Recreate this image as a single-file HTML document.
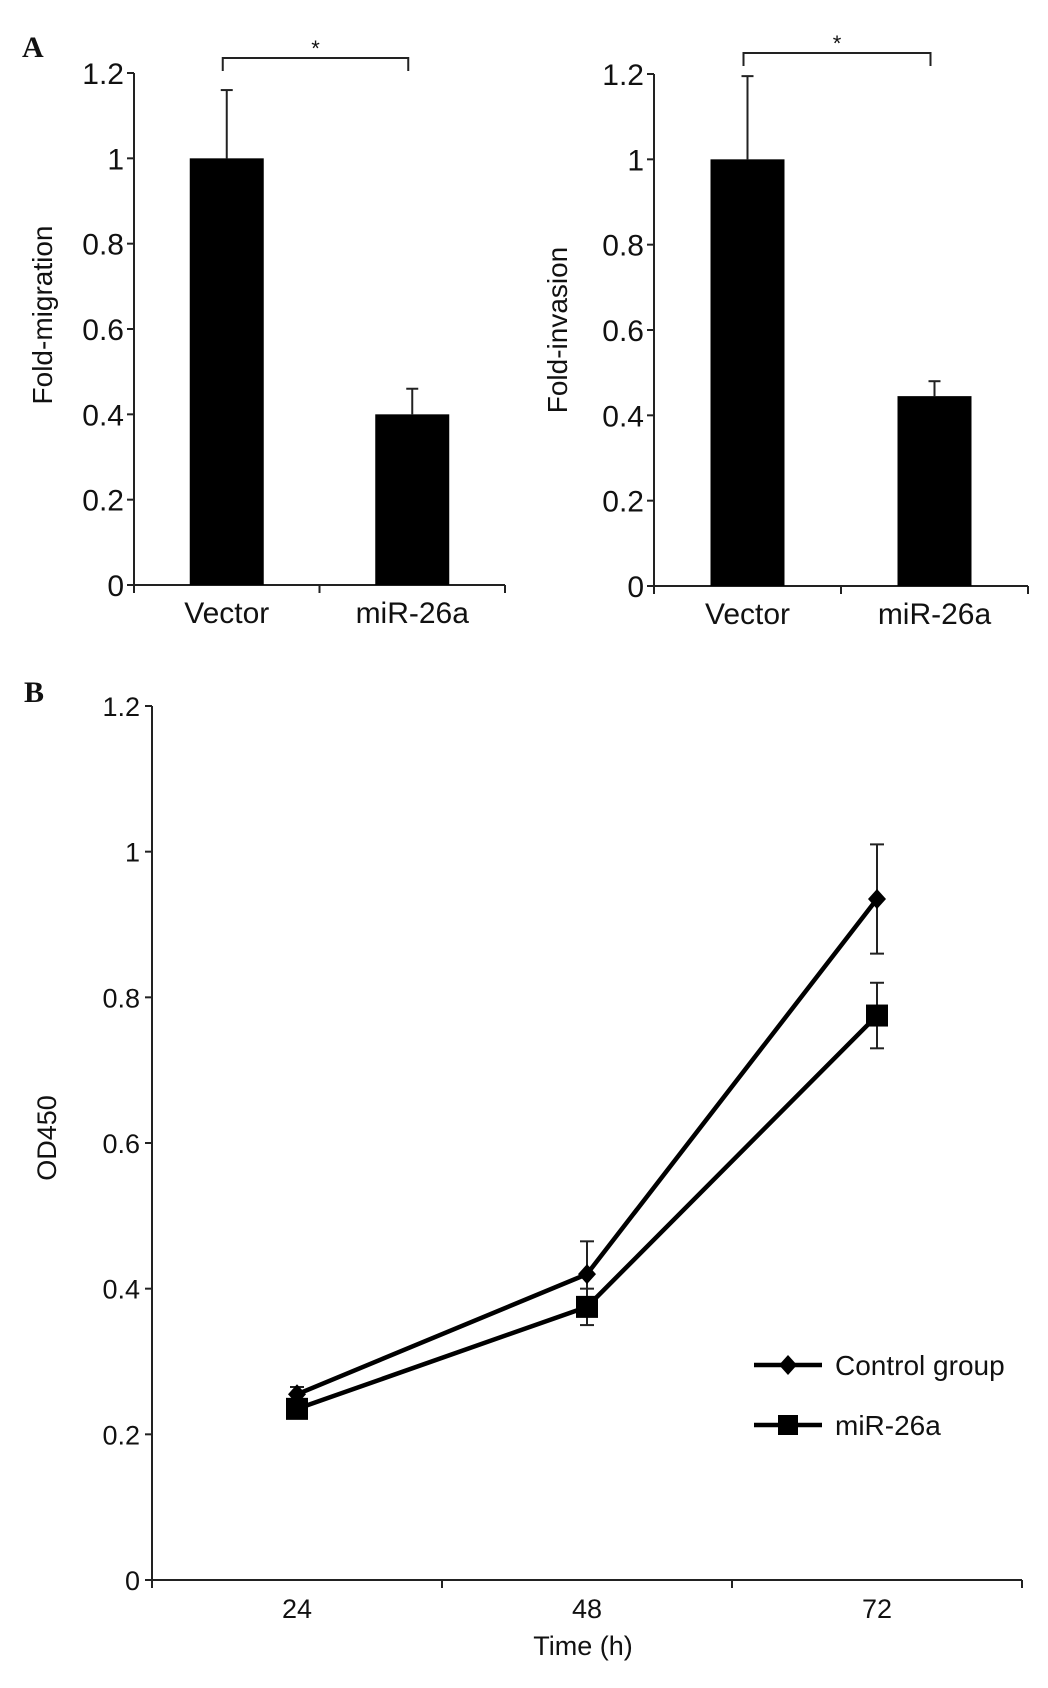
<!DOCTYPE html>
<html><head><meta charset="utf-8"><style>
html,body{margin:0;padding:0;background:#fff}
svg{display:block}
text{font-family:"Liberation Sans",Arial,sans-serif;fill:#111}
.n{font-family:"Liberation Sans Narrow","Liberation Sans",sans-serif}
</style></head><body>
<svg id="fig" width="1048" height="1688" viewBox="0 0 1048 1688" xmlns="http://www.w3.org/2000/svg">
<text x="22" y="57" style="font-family:'Liberation Serif',serif;font-weight:bold;font-size:30px">A</text>
<text x="24" y="702" style="font-family:'Liberation Serif',serif;font-weight:bold;font-size:30px">B</text>
<g id="a1"></g>
<g id="a2"></g>
<g id="b"></g>
</svg>
<script>
const barCats = ["Vector", "miR-26a"];
const migrationVals = [1.0, 0.40];
const migrationErr = [0.16, 0.06];
const invasionVals = [1.0, 0.445];
const invasionErr = [0.195, 0.035];
const barTicks = ["0", "0.2", "0.4", "0.6", "0.8", "1", "1.2"];
const timeCats = ["24", "48", "72"];
const controlVals = [0.255, 0.42, 0.935];
const controlErr = [0.01, 0.045, 0.075];
const mirVals = [0.235, 0.375, 0.775];
const mirErr = [0.01, 0.025, 0.045];
const lineTicks = ["0", "0.2", "0.4", "0.6", "0.8", "1", "1.2"];

const NS = "http://www.w3.org/2000/svg";
function mk(parent, tag, attrs, txt) {
  const e = document.createElementNS(NS, tag);
  for (const k in attrs) e.setAttribute(k, attrs[k]);
  if (txt !== undefined) e.textContent = txt;
  parent.appendChild(e);
  return e;
}

function barChart(g, x0, x1, y0, y1, vals, errs, ylabel, ylx, yly, bracketY, prefix) {
  const yS = v => y0 - (v / 1.2) * (y0 - y1);
  const band = (x1 - x0) / barCats.length;
  const xC = i => x0 + band * (i + 0.5);
  const bw = 74;
  let ax = mk(g, "line", {x1: x0, y1: y1, x2: x0, y2: y0, stroke: "#222", "stroke-width": 2});
  
  
  ax = mk(g, "line", {x1: x0, y1: y0, x2: x1, y2: y0, stroke: "#222", "stroke-width": 2});
  
  
  barTicks.forEach((t, i) => {
    const v = parseFloat(t), y = yS(v);
    mk(g, "line", {x1: x0 - 7, y1: y, x2: x0, y2: y, stroke: "#222", "stroke-width": 2});
    const tx = mk(g, "text", {x: x0 - 10, y: y + 11, "text-anchor": "end", "font-size": 30, class: "n"}, t);
    
    
  });
  for (let i = 0; i <= barCats.length; i++) {
    const x = x0 + band * i;
    mk(g, "line", {x1: x, y1: y0, x2: x, y2: y0 + 8, stroke: "#222", "stroke-width": 2});
  }
  barCats.forEach((c, i) => {
    const cx = xC(i), top = yS(vals[i]), et = yS(vals[i] + errs[i]);
    mk(g, "line", {x1: cx, y1: top, x2: cx, y2: et, stroke: "#222", "stroke-width": 2});
    mk(g, "line", {x1: cx - 6, y1: et, x2: cx + 6, y2: et, stroke: "#222", "stroke-width": 2});
    const r = mk(g, "rect", {x: cx - bw / 2, y: top, width: bw, height: y0 - top, fill: "#000"});
    
    
    const tx = mk(g, "text", {x: cx, y: y0 + 38, "text-anchor": "middle", "font-size": 30, class: "n"}, c);
    
    
  });
  const bx1 = xC(0) - 4, bx2 = xC(1) - 4;
  const br = mk(g, "path", {d: `M${bx1},${bracketY + 13} V${bracketY} H${bx2} V${bracketY + 13}`, fill: "none", stroke: "#222", "stroke-width": 2});
  
  
  const st = mk(g, "text", {x: (bx1 + bx2) / 2, y: bracketY - 2, "text-anchor": "middle", "font-size": 22}, "*");
  
  
  const yl = mk(g, "text", {x: ylx, y: yly, "text-anchor": "middle", "font-size": 28, transform: `rotate(-90 ${ylx} ${yly})`}, ylabel);
  
  
}

barChart(document.getElementById("a1"), 134, 505, 585, 73, migrationVals, migrationErr, "Fold-migration", 52, 315, 58, "migration");
barChart(document.getElementById("a2"), 654, 1028, 586, 74, invasionVals, invasionErr, "Fold-invasion", 567, 330, 53, "invasion");

(function () {
  const g = document.getElementById("b");
  const x0 = 152, x1 = 1022, y0 = 1580, y1 = 706;
  const yS = v => y0 - (v / 1.2) * (y0 - y1);
  const band = (x1 - x0) / timeCats.length;
  const xC = i => x0 + band * (i + 0.5);
  let ax = mk(g, "line", {x1: x0, y1: y1, x2: x0, y2: y0, stroke: "#222", "stroke-width": 2});
  
  
  ax = mk(g, "line", {x1: x0, y1: y0, x2: x1, y2: y0, stroke: "#222", "stroke-width": 2});
  
  
  lineTicks.forEach(t => {
    const y = yS(parseFloat(t));
    mk(g, "line", {x1: x0 - 7, y1: y, x2: x0, y2: y, stroke: "#222", "stroke-width": 2});
    const tx = mk(g, "text", {x: x0 - 12, y: y + 10, "text-anchor": "end", "font-size": 27}, t);
    
    
  });
  for (let i = 0; i <= timeCats.length; i++) {
    const x = x0 + band * i;
    mk(g, "line", {x1: x, y1: y0, x2: x, y2: y0 + 8, stroke: "#222", "stroke-width": 2});
  }
  timeCats.forEach((c, i) => {
    const tx = mk(g, "text", {x: xC(i), y: y0 + 38, "text-anchor": "middle", "font-size": 27}, c);
    
    
  });
  function series(vals, errs, name, marker) {
    vals.forEach((v, i) => {
      const cx = xC(i);
      mk(g, "line", {x1: cx, y1: yS(v - errs[i]), x2: cx, y2: yS(v + errs[i]), stroke: "#222", "stroke-width": 2});
      mk(g, "line", {x1: cx - 7, y1: yS(v + errs[i]), x2: cx + 7, y2: yS(v + errs[i]), stroke: "#222", "stroke-width": 2});
      mk(g, "line", {x1: cx - 7, y1: yS(v - errs[i]), x2: cx + 7, y2: yS(v - errs[i]), stroke: "#222", "stroke-width": 2});
    });
    const pl = mk(g, "polyline", {points: vals.map((v, i) => xC(i) + "," + yS(v)).join(" "), fill: "none", stroke: "#000", "stroke-width": 4.5});
    
    
    vals.forEach((v, i) => {
      const cx = xC(i), cy = yS(v);
      let m;
      if (marker === "d") m = mk(g, "path", {d: `M${cx},${cy - 10} L${cx + 9},${cy} L${cx},${cy + 10} L${cx - 9},${cy} Z`, fill: "#000"});
      else m = mk(g, "rect", {x: cx - 11, y: cy - 11, width: 22, height: 22, fill: "#000"});
      
      
    });
  }
  series(controlVals, controlErr, "control-group", "d");
  series(mirVals, mirErr, "mir-26a", "s");
  // legend
  const lg = mk(g, "g", {});
  
  
  mk(lg, "line", {x1: 754, y1: 1365, x2: 822, y2: 1365, stroke: "#000", "stroke-width": 4.5});
  mk(lg, "path", {d: "M788,1355 L797,1365 L788,1375 L779,1365 Z", fill: "#000"});
  let t = mk(lg, "text", {x: 835, y: 1375, "font-size": 28}, "Control group");
  
  
  mk(lg, "line", {x1: 754, y1: 1425, x2: 822, y2: 1425, stroke: "#000", "stroke-width": 4.5});
  mk(lg, "rect", {x: 778, y: 1415, width: 20, height: 20, fill: "#000"});
  t = mk(lg, "text", {x: 835, y: 1435, "font-size": 28}, "miR-26a");
  
  
  const yl = mk(g, "text", {x: 56, y: 1138, "text-anchor": "middle", "font-size": 27, transform: "rotate(-90 56 1138)"}, "OD450");
  
  
  const xl = mk(g, "text", {x: 583, y: 1655, "text-anchor": "middle", "font-size": 27}, "Time (h)");
  
  
})();
</script>
</body></html>
